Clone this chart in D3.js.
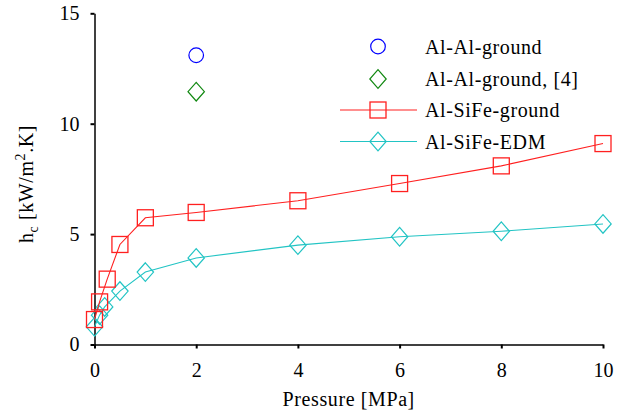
<!DOCTYPE html>
<html>
<head>
<meta charset="utf-8">
<script src="https://cdn.jsdelivr.net/npm/d3@7"></script>
</head>
<body style="margin:0">
<svg id="chart" width="630" height="412"></svg>
<script>
// Contact conductance vs. pressure
const alAlGround = [{p: 2, h: 13.1}];
const alAlGroundRef4 = [{p: 2, h: 11.45}];

const siFeGroundP = [0, 0.1, 0.25, 0.5, 1, 2, 4, 6, 8, 10];
const siFeGroundH = [1.13, 1.93, 2.96, 4.53, 5.74, 5.98, 6.51, 7.29, 8.09, 9.1];

const siFeEdmP = [0, 0.1, 0.2, 0.5, 1, 2, 4, 6, 8, 10];
const siFeEdmH = [0.8, 1.33, 1.7, 2.42, 3.28, 3.92, 4.5, 4.88, 5.13, 5.46];

const xTicks = [0, 2, 4, 6, 8, 10];
const yTicks = [0, 5, 10, 15];

const legendLabels = ["Al-Al-ground", "Al-Al-ground, [4]", "Al-SiFe-ground", "Al-SiFe-EDM"];

const FONT = '"Liberation Serif"';

const svg = d3.select("#chart");
const x = d3.scaleLinear().domain([0, 10]).range([94.5, 603]);
const y = d3.scaleLinear().domain([0, 15]).range([344.5, 13.3]);

const colors = { blue: "#0000ff", green: "#118811", red: "#ff2020", cyan: "#22c4c4" };

// axes
const xAxis = svg.append("g")
  .attr("transform", `translate(0,${y(0)})`)
  .call(d3.axisBottom(x).tickValues(xTicks).tickSize(4).tickPadding(14).tickSizeOuter(0));
const yAxis = svg.append("g")
  .attr("transform", `translate(${x(0)},0)`)
  .call(d3.axisLeft(y).tickValues(yTicks).tickSize(4).tickPadding(11).tickSizeOuter(0));

[xAxis, yAxis].forEach(g => {
  g.select(".domain").attr("stroke", "#000").attr("stroke-width", 1.5);
  g.selectAll(".tick line").attr("stroke", "#000").attr("stroke-width", 2);
  g.selectAll(".tick text")
    .style("font-family", FONT)
    .attr("font-size", 20)
    .attr("fill", "#000");
});

// axis titles
svg.append("text")
  .attr("x", x(5)).attr("y", 406)
  .attr("text-anchor", "middle")
  .style("font-family", FONT)
  .attr("font-size", 20)
  .attr("letter-spacing", 0.6)
  .text("Pressure [MPa]");

const yt = svg.append("text")
  .attr("transform", "translate(33,184) rotate(-90)")
  .attr("text-anchor", "middle")
  .style("font-family", FONT)
  .attr("font-size", 20)
  .attr("letter-spacing", 0.6);
yt.append("tspan").text("h");
yt.append("tspan").attr("font-size", 14).attr("dy", 5).text("c");
yt.append("tspan").attr("dy", -5).text(" [kW/m");
yt.append("tspan").attr("font-size", 14).attr("dy", -8).text("2");
yt.append("tspan").attr("dy", 8).text(".K]");

// marker drawers
function circleMark(g, cx, cy, color) {
  g.append("circle").attr("cx", cx).attr("cy", cy).attr("r", 7.3)
    .attr("fill", "none").attr("stroke", color).attr("stroke-width", 1.2);
}
function diamondMark(g, cx, cy, color) {
  g.append("path")
    .attr("d", `M${cx},${cy - 9.3}L${cx + 8.2},${cy}L${cx},${cy + 9.3}L${cx - 8.2},${cy}Z`)
    .attr("fill", "none").attr("stroke", color).attr("stroke-width", 1.2);
}
function squareMark(g, cx, cy, color) {
  g.append("rect").attr("x", cx - 8).attr("y", cy - 8).attr("width", 16).attr("height", 16)
    .attr("fill", "none").attr("stroke", color).attr("stroke-width", 1.3);
}

const plot = svg.append("g");
const line = d3.line().x(d => x(d[0])).y(d => y(d[1]));

const groundPts = siFeGroundP.map((p, i) => [p, siFeGroundH[i]]);
const edmPts = siFeEdmP.map((p, i) => [p, siFeEdmH[i]]);

plot.append("path").datum(edmPts).attr("d", line)
  .attr("fill", "none").attr("stroke", colors.cyan).attr("stroke-width", 1.1);
edmPts.forEach(d => diamondMark(plot, x(d[0]), y(d[1]), colors.cyan));

plot.append("path").datum(groundPts).attr("d", line)
  .attr("fill", "none").attr("stroke", colors.red).attr("stroke-width", 1.1);
groundPts.forEach(d => squareMark(plot, x(d[0]), y(d[1]), colors.red));

alAlGround.forEach(d => circleMark(plot, x(d.p), y(d.h), colors.blue));
alAlGroundRef4.forEach(d => diamondMark(plot, x(d.p), y(d.h), colors.green));

// legend
const legend = svg.append("g");
const rowY = [46.5, 79, 110, 141.5];
const mx = 378;
legendLabels.forEach((label, i) => {
  const ry = rowY[i];
  if (i >= 2) {
    legend.append("line").attr("x1", 340).attr("x2", 417).attr("y1", ry).attr("y2", ry)
      .attr("stroke", i === 2 ? colors.red : colors.cyan).attr("stroke-width", 1.1);
  }
  if (i === 0) circleMark(legend, mx, ry, colors.blue);
  if (i === 1) diamondMark(legend, mx, ry, colors.green);
  if (i === 2) squareMark(legend, mx, ry, colors.red);
  if (i === 3) diamondMark(legend, mx, ry, colors.cyan);
  legend.append("text").attr("x", 425).attr("y", ry + 7)
    .style("font-family", FONT)
    .attr("font-size", 20)
    .attr("letter-spacing", 0.6)
    .text(label);
});
</script>
</body>
</html>
